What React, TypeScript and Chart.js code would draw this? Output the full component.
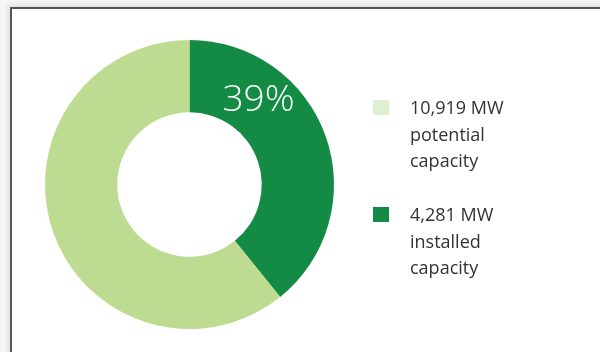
import React, { useEffect, useRef } from "react";
import { Chart, registerables } from "chart.js";

Chart.register(...registerables);

const categories = ["installed capacity", "remaining potential"];
const values = [4281, 6638];
const segmentColors = ["#138B44", "#BEDC91"];
const centerLabel = "39%";
const legendLines = [
  ["10,919 MW", "potential", "capacity"],
  ["4,281 MW", "installed", "capacity"],
];
const legendColors = ["#DFEFD1", "#138B44"];

const labelPlugin = {
  id: "segmentLabel",
  afterDatasetsDraw(chart: any) {
    const meta = chart.getDatasetMeta(0);
    const arc = meta.data[0];
    if (!arc) return;
    const p = arc.getProps(["x", "y", "startAngle", "endAngle", "innerRadius", "outerRadius"], true);
    const ang = p.startAngle + (p.endAngle - p.startAngle) * 0.28;
    const r = (p.innerRadius + p.outerRadius) / 2;
    const ctx = chart.ctx;
    ctx.save();
    ctx.fillStyle = "#ffffff";
    ctx.font = "300 37px 'Open Sans', 'Noto Sans', sans-serif";
    ctx.textAlign = "center";
    ctx.textBaseline = "middle";
    ctx.fillText(centerLabel, p.x + Math.cos(ang) * r, p.y + Math.sin(ang) * r);
    ctx.restore();
  },
};

export default function App() {
  const ref = useRef<HTMLCanvasElement | null>(null);
  useEffect(() => {
    if (!ref.current) return;
    const chart = new Chart(ref.current, {
      type: "doughnut",
      data: {
        labels: categories,
        datasets: [
          {
            data: values,
            backgroundColor: segmentColors,
            borderWidth: 0,
            hoverOffset: 0,
          },
        ],
      },
      options: {
        animation: false,
        responsive: false,
        maintainAspectRatio: false,
        cutout: "50%",
        layout: { padding: { left: 45, right: 266, top: 40, bottom: 23 } },
        plugins: { legend: { display: false }, tooltip: { enabled: false } },
      },
      plugins: [labelPlugin],
    });
    return () => chart.destroy();
  }, []);

  return (
    <div
      style={{
        position: "absolute",
        left: 0,
        top: 0,
        width: 600,
        height: 352,
        background: "#f6f6f6",
        overflow: "hidden",
      }}
    >
      <div
        style={{
          position: "absolute",
          left: 10,
          top: 7,
          width: 620,
          height: 380,
          background: "#ffffff",
          borderLeft: "2px solid #555",
          borderTop: "2px solid #555",
          boxShadow: "-3px -3px 4px rgba(0,0,0,0.08)",
        }}
      />
      <canvas
        ref={ref}
        width={600}
        height={352}
        style={{ position: "absolute", left: 0, top: 0, width: 600, height: 352 }}
      />
      {legendLines.map((lines, i) => (
        <div key={i}>
          <div
            style={{
              position: "absolute",
              left: 373,
              top: i === 0 ? 100 : 207,
              width: 16,
              height: 15,
              background: legendColors[i],
            }}
          />
          <div
            style={{
              position: "absolute",
              left: 410,
              top: i === 0 ? 94 : 201,
              fontFamily: "'Open Sans', 'Noto Sans', sans-serif",
              fontSize: 18,
              lineHeight: "26.5px",
              color: "#333",
            }}
          >
            {lines.map((t, j) => (
              <div key={j}>{t}</div>
            ))}
          </div>
        </div>
      ))}
    </div>
  );
}
